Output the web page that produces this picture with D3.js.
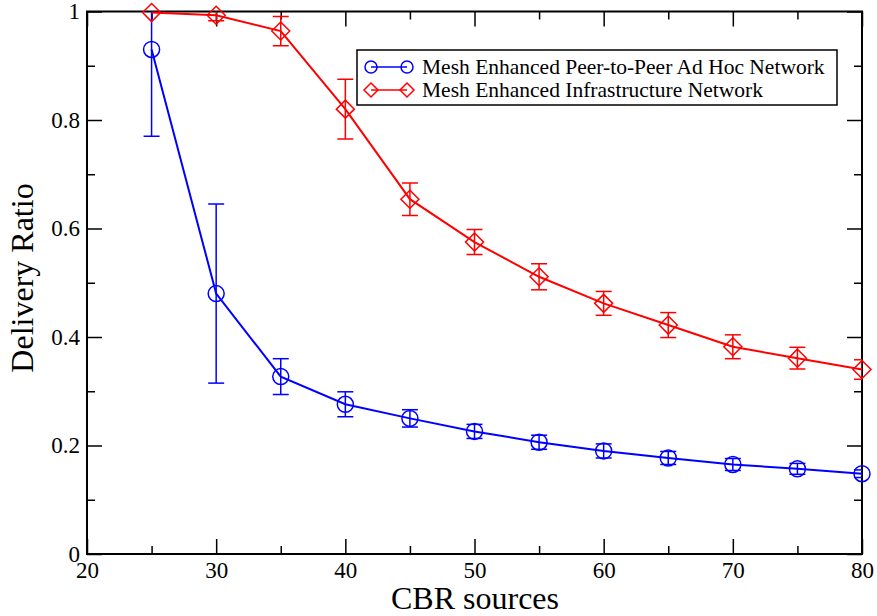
<!DOCTYPE html>
<html>
<head>
<meta charset="utf-8">
<script src="https://cdn.jsdelivr.net/npm/d3@7"></script>
<style>
  html, body { margin: 0; padding: 0; background: #fff; }
  svg { display: block; }
  text { font-family: "Liberation Serif", "DejaVu Serif", serif; fill: #000; }
</style>
</head>
<body>
<svg id="chart" width="877" height="616"></svg>
<script>
// CBR source counts on the x axis
const cbrSources = [25, 30, 35, 40, 45, 50, 55, 60, 65, 70, 75, 80];

// Delivery ratio and its error half-width for each network type
const adHocRatio = [0.930, 0.480, 0.327, 0.276, 0.250, 0.226, 0.206, 0.190, 0.177, 0.165, 0.157, 0.148];
const adHocError = [0.160, 0.165, 0.033, 0.023, 0.016, 0.013, 0.013, 0.013, 0.012, 0.011, 0.010, 0.007];
const infraRatio = [0.998, 0.993, 0.964, 0.820, 0.654, 0.575, 0.511, 0.462, 0.422, 0.382, 0.361, 0.340];
const infraError = [0.000, 0.010, 0.027, 0.055, 0.030, 0.023, 0.024, 0.022, 0.023, 0.022, 0.020, 0.018];

const seriesNames = ["Mesh Enhanced Peer-to-Peer Ad Hoc Network", "Mesh Enhanced Infrastructure Network"];

const xTicks = [20, 30, 40, 50, 60, 70, 80];
const yTicks = [0, 0.2, 0.4, 0.6, 0.8, 1];
const yTickLabels = ["0", "0.2", "0.4", "0.6", "0.8", "1"];

const svg = d3.select("#chart");
const plotLeft = 87, plotRight = 862, plotTop = 11.5, plotBottom = 554;
const serif = "'Liberation Serif', 'DejaVu Serif', serif";

const x = d3.scaleLinear().domain([20, 80]).range([plotLeft, plotRight]);
const y = d3.scaleLinear().domain([0, 1]).range([plotBottom, plotTop]);

svg.append("defs").append("clipPath").attr("id", "plotClip")
  .append("rect").attr("x", plotLeft).attr("y", plotTop)
  .attr("width", plotRight - plotLeft).attr("height", plotBottom - plotTop);

// Axes: major ticks every 10 / 0.2, minor halfway, pointing inward on all sides
const xMinor = [25, 35, 45, 55, 65, 75];
const yMinor = [0.1, 0.3, 0.5, 0.7, 0.9];
const majorLen = 15, minorLen = 8;

function drawAxis(axis, transform) {
  const g = svg.append("g").attr("transform", transform).call(axis);
  g.attr("font-family", null);
  g.select(".domain").remove();
  g.selectAll(".tick line").attr("stroke", "#000").attr("stroke-width", 1.5);
  g.selectAll(".tick text").style("font-family", serif).style("font-size", "23px").attr("fill", "#000");
  return g;
}

// bottom
drawAxis(d3.axisBottom(x).tickValues(xTicks).tickSize(-majorLen).tickPadding(8)
  .tickFormat(d3.format("d")), `translate(0,${plotBottom})`);
drawAxis(d3.axisBottom(x).tickValues(xMinor).tickSize(-minorLen).tickFormat(""), `translate(0,${plotBottom})`);
// top
drawAxis(d3.axisTop(x).tickValues(xTicks).tickSize(-majorLen).tickFormat(""), `translate(0,${plotTop})`);
drawAxis(d3.axisTop(x).tickValues(xMinor).tickSize(-minorLen).tickFormat(""), `translate(0,${plotTop})`);
// left
drawAxis(d3.axisLeft(y).tickValues(yTicks).tickSize(-majorLen).tickPadding(7)
  .tickFormat((d, i) => yTickLabels[i]), `translate(${plotLeft},0)`);
drawAxis(d3.axisLeft(y).tickValues(yMinor).tickSize(-minorLen).tickFormat(""), `translate(${plotLeft},0)`);
// right
drawAxis(d3.axisRight(y).tickValues(yTicks).tickSize(-majorLen).tickFormat(""), `translate(${plotRight},0)`);
drawAxis(d3.axisRight(y).tickValues(yMinor).tickSize(-minorLen).tickFormat(""), `translate(${plotRight},0)`);

// Frame
svg.append("rect").attr("x", plotLeft).attr("y", plotTop)
  .attr("width", plotRight - plotLeft).attr("height", plotBottom - plotTop)
  .attr("fill", "none").attr("stroke", "#000").attr("stroke-width", 2);

// Axis titles
svg.append("text").attr("x", 475).attr("y", 609).attr("text-anchor", "middle")
  .style("font-size", "32px").text("CBR sources");
svg.append("text").attr("transform", "translate(33,278) rotate(-90)").attr("text-anchor", "middle")
  .style("font-size", "32px").text("Delivery Ratio");

// Series
const series = [
  { name: seriesNames[0], color: "#0000ff", values: adHocRatio, errors: adHocError, marker: "circle" },
  { name: seriesNames[1], color: "#ff0000", values: infraRatio, errors: infraError, marker: "diamond" }
];

const plot = svg.append("g").attr("clip-path", "url(#plotClip)");
const marks = svg.append("g");
const capHalf = 8;

function drawMarker(g, kind, cx, cy, color) {
  if (kind === "circle") {
    g.append("circle").attr("cx", cx).attr("cy", cy).attr("r", 8)
      .attr("fill", "none").attr("stroke", color).attr("stroke-width", 1.5);
  } else {
    const s = 9;
    g.append("path").attr("d", `M${cx},${cy - s}L${cx + s},${cy}L${cx},${cy + s}L${cx - s},${cy}Z`)
      .attr("fill", "none").attr("stroke", color).attr("stroke-width", 1.5);
  }
}

series.forEach(s => {
  const g = plot.append("g");
  // error bars
  s.values.forEach((v, i) => {
    const e = s.errors[i];
    if (e <= 0) return;
    const cx = x(cbrSources[i]);
    const y1 = y(v + e), y0 = y(v - e);
    g.append("line").attr("x1", cx).attr("x2", cx).attr("y1", y1).attr("y2", y0)
      .attr("stroke", s.color).attr("stroke-width", 1.5);
    [y1, y0].forEach(yy => g.append("line").attr("x1", cx - capHalf).attr("x2", cx + capHalf)
      .attr("y1", yy).attr("y2", yy).attr("stroke", s.color).attr("stroke-width", 1.5));
  });
  // line
  const line = d3.line().x((d, i) => x(cbrSources[i])).y(d => y(d));
  marks.append("path").datum(s.values).attr("d", line).attr("fill", "none")
    .attr("stroke", s.color).attr("stroke-width", 2);
  // markers
  s.values.forEach((v, i) => drawMarker(marks, s.marker, x(cbrSources[i]), y(v), s.color));
});

// Legend
const lg = svg.append("g");
lg.append("rect").attr("x", 357).attr("y", 50).attr("width", 480).attr("height", 55)
  .attr("fill", "#fff").attr("stroke", "#000").attr("stroke-width", 1.5);
series.forEach((s, i) => {
  const ly = 67 + i * 23;
  lg.append("line").attr("x1", 371).attr("x2", 407).attr("y1", ly).attr("y2", ly)
    .attr("stroke", s.color).attr("stroke-width", 1.5);
  if (s.marker === "circle") {
    [371, 407].forEach(cx => lg.append("circle").attr("cx", cx).attr("cy", ly).attr("r", 6)
      .attr("fill", "none").attr("stroke", s.color).attr("stroke-width", 1.5));
  } else {
    [371, 407].forEach(cx => lg.append("path")
      .attr("d", `M${cx},${ly - 7}L${cx + 7},${ly}L${cx},${ly + 7}L${cx - 7},${ly}Z`)
      .attr("fill", "none").attr("stroke", s.color).attr("stroke-width", 1.5));
  }
  lg.append("text").attr("x", 422).attr("y", ly + 7).style("font-size", "21.5px").text(s.name);
});
</script>
</body>
</html>
